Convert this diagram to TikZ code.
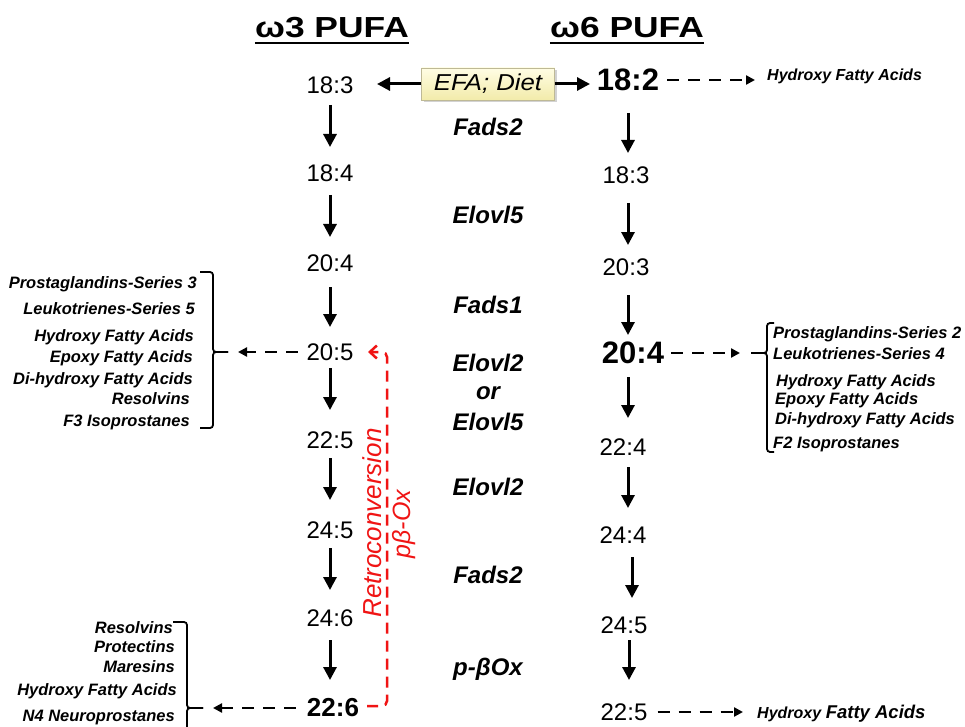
\documentclass[tikz,border=0pt]{standalone}
\usepackage{fontspec}
\setmainfont{Liberation Sans}
\usetikzlibrary{arrows.meta,calc,shadows}
\begin{document}
\begin{tikzpicture}[x=1pt,y=-1pt,
 num/.style={font=\fontsize{24}{28}\selectfont,inner sep=2pt},
 bignum/.style={font=\fontsize{31}{36}\selectfont\bfseries,inner sep=2pt},
 enz/.style={font=\fontsize{24}{28}\selectfont\bfseries\itshape,inner sep=1pt},
 lab/.style={font=\fontsize{16.5}{20}\selectfont\bfseries\itshape,inner sep=0pt},
 hdr/.style={font=\fontsize{29}{34}\selectfont\bfseries,inner xsep=0pt,inner ysep=5pt,anchor=south},
 efa/.style={draw={rgb,255:red,190;green,185;blue,150},line width=0.8pt,
   top color={rgb,255:red,255;green,253;blue,228},bottom color={rgb,255:red,242;green,235;blue,170},
   minimum width=133pt,minimum height=32pt,inner sep=0pt,
   font=\fontsize{23}{27}\selectfont\itshape,
   drop shadow={opacity=0.35,shadow xshift=2.5pt,shadow yshift=-2.5pt}},
 arr/.style={line width=3pt,-{Triangle[length=13pt,width=13pt]}},
 darr/.style={line width=2.7pt,dash pattern=on 12pt off 9pt,-{Triangle[length=9pt,width=9pt]}},
 brk/.style={line width=1.8pt,rounded corners=3pt},
 retro/.style={draw={rgb,255:red,240;green,20;blue,20},line width=2.5pt,dash pattern=on 11pt off 7pt,rounded corners=5pt,-{Straight Barb[length=7pt,width=13pt]}},
 rtext/.style={text={rgb,255:red,240;green,20;blue,20},rotate=90,inner sep=0pt},
 uline/.style={line width=2.5pt}
]
\useasboundingbox (0,0) rectangle (965,727);
\fill[white] (0,0) rectangle (965,727);

% headers
\node[hdr] (h3) at (332,43) {\scalebox{1.22}[1]{ω3 PUFA}};
\draw[uline] (h3.south west) -- (h3.south east);
\node[hdr] (h6) at (627,43) {\scalebox{1.22}[1]{ω6 PUFA}};
\draw[uline] (h6.south west) -- (h6.south east);

% omega-3 column
\node[num] (L1) at (330,85) {18:3};
\node[num] (L2) at (330,173) {18:4};
\node[num] (L3) at (330,263) {20:4};
\node[num] (L4) at (330,352) {20:5};
\node[num] (L5) at (330,440) {22:5};
\node[num] (L6) at (330,530) {24:5};
\node[num] (L7) at (330,618) {24:6};
\node[num,font=\fontsize{26}{30}\selectfont\bfseries] (L8) at (333,708) {22:6};

\draw[arr] ($(L1)+(0,20)$) -- ($(L2)+(0,-26)$);
\draw[arr] ($(L2)+(0,22)$) -- ($(L3)+(0,-26)$);
\draw[arr] ($(L3)+(0,24)$) -- ($(L4)+(0,-25)$);
\draw[arr] ($(L4)+(0,16)$) -- ($(L5)+(0,-30)$);
\draw[arr] ($(L5)+(0,18)$) -- ($(L6)+(0,-30)$);
\draw[arr] ($(L6)+(0,18)$) -- ($(L7)+(0,-28)$);
\draw[arr] ($(L7)+(0,22)$) -- ($(L8)+(-3,-28)$);

% omega-6 column
\node[bignum] (R1) at (628,80) {18:2};
\node[num] (R2) at (626,175) {18:3};
\node[num] (R3) at (626,267) {20:3};
\node[bignum] (R4) at (633,353) {20:4};
\node[num] (R5) at (623,447) {22:4};
\node[num] (R6) at (623,535) {24:4};
\node[num] (R7) at (624,625) {24:5};
\node[num] (R8) at (624,712) {22:5};

\draw[arr] ($(R1)+(0,33)$) -- ($(R2)+(2,-22)$);
\draw[arr] ($(R2)+(2,28)$) -- ($(R3)+(2,-22)$);
\draw[arr] ($(R3)+(2,28)$) -- ($(R4)+(-5,-18)$);
\draw[arr] ($(R4)+(-5,24)$) -- ($(R5)+(5,-29)$);
\draw[arr] ($(R5)+(5,20)$) -- ($(R6)+(5,-27)$);
\draw[arr] ($(R6)+(9,22)$) -- ($(R7)+(8,-27)$);
\draw[arr] ($(R7)+(5,15)$) -- ($(R8)+(5,-32)$);

% EFA box
\node[efa] (E) at (488,84) {\scalebox{1.12}[1]{EFA; Diet}};
\draw[arr] (E.west) -- ($(L1)+(47,-1)$);
\draw[arr] (E.east) -- ($(R1)+(-38,4)$);

% enzymes
\node[enz] (e1) at (488,127) {Fads2};
\node[enz] (e2) at (488,215) {Elovl5};
\node[enz] (e3) at (488,305) {Fads1};
\node[enz] (e4) at (488,363) {Elovl2};
\node[enz] (e5) at (488,393) {or};
\node[enz] (e6) at (488,422) {Elovl5};
\node[enz] (e7) at (488,487) {Elovl2};
\node[enz] (e8) at (488,575) {Fads2};
\node[enz,anchor=base] (e9) at (488,675) {p-βOx};

% retroconversion
\coordinate (rs) at (367,706);
\draw[retro] (rs) -- ++(20,0) |- ($(L4)+(38,0)$);
\node[rtext,font=\fontsize{26}{30}\selectfont\itshape] (rt) at (372,523) {Retroconversion};
\node[rtext,font=\fontsize{25}{30}\selectfont\itshape] (rp) at (404,524) {pβ-Ox};

% top right hydroxy
\node[lab,anchor=base west,font=\fontsize{16}{20}\selectfont\bfseries\itshape] (H1) at (767,81) {Hydroxy Fatty Acids};
\draw[darr,shorten <=6pt,shorten >=12pt] (R1.east) -- (R1.east -| H1.west);

% bottom right hydroxy
\node[lab,anchor=base west] (H2) at (757,718) {{\fontsize{16}{20}\selectfont Hydroxy} {\fontsize{18.5}{20}\selectfont Fatty Acids}};
\draw[darr,shorten <=8pt,shorten >=14pt] (R8.east) -- (R8.east -| H2.west);

% left bracket at 20:5
\coordinate (lb) at (228,352);
\draw[brk] (200,272) -- (213,272) -- (213,352) -- (lb);
\draw[brk] (lb) -- (213,352) -- (213,428) -- (200,428);
\draw[darr,shorten <=6.5pt,shorten >=10pt] (L4.west) -- (lb);
\node[lab,anchor=base east] (a1) at (197,288) {Prostaglandins-Series 3};
\node[lab,anchor=base east] (a2) at (195,314) {Leukotrienes-Series 5};
\node[lab,anchor=base east] (a3) at (194,341) {Hydroxy Fatty Acids};
\node[lab,anchor=base east] (a4) at (193,362) {Epoxy Fatty Acids};
\node[lab,anchor=base east] (a5) at (193,384) {Di-hydroxy Fatty Acids};
\node[lab,anchor=base east] (a6) at (190,404) {Resolvins};
\node[lab,anchor=base east] (a7) at (190,426) {F3 Isoprostanes};

% bottom left bracket at 22:6
\coordinate (bb) at (203,708);
\draw[brk] (173,622) -- (187,622) -- (187,708) -- (bb);
\draw[brk] (bb) -- (187,708) -- (187,740);
\draw[darr,shorten <=9pt,shorten >=10pt] (L8.west) -- (bb);
\node[lab,anchor=base east] (b1) at (173,633) {Resolvins};
\node[lab,anchor=base east] (b2) at (175,652) {Protectins};
\node[lab,anchor=base east] (b3) at (175,672) {Maresins};
\node[lab,anchor=base east] (b4) at (177,695) {Hydroxy Fatty Acids};
\node[lab,anchor=base east] (b5) at (175,721) {N4 Neuroprostanes};

% right bracket at 20:4
\coordinate (rb) at (751,353);
\draw[brk] (774,323) -- (767,323) -- (767,353) -- (rb);
\draw[brk] (rb) -- (767,353) -- (767,452) -- (774,452);
\draw[darr,shorten <=5pt,shorten >=11pt] (R4.east) -- (rb);
\node[lab,anchor=base west] (c1) at (773,338) {Prostaglandins-Series 2};
\node[lab,anchor=base west] (c2) at (773,359) {Leukotrienes-Series 4};
\node[lab,anchor=base west] (c3) at (776,386) {Hydroxy Fatty Acids};
\node[lab,anchor=base west] (c4) at (775,404) {Epoxy Fatty Acids};
\node[lab,anchor=base west] (c5) at (775,424) {Di-hydroxy Fatty Acids};
\node[lab,anchor=base west] (c6) at (773,448) {F2 Isoprostanes};
\end{tikzpicture}
\end{document}
